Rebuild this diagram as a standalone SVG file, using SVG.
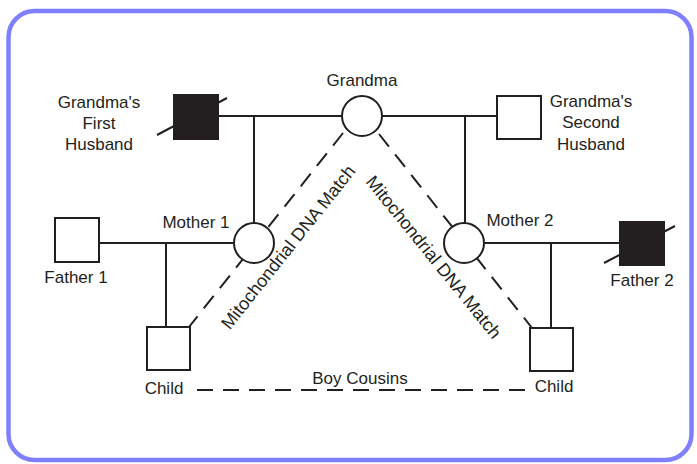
<svg xmlns="http://www.w3.org/2000/svg" width="697" height="464" viewBox="0 0 697 464">
<style>
  .ln{stroke:#231f20;stroke-width:2;fill:none}
  .dash{stroke:#231f20;stroke-width:2;fill:none;stroke-dasharray:16 10}
  .m{fill:#fff;stroke:#231f20;stroke-width:2}
  .d{fill:#231f20;stroke:#231f20;stroke-width:2}
  .f{fill:#fff;stroke:#231f20;stroke-width:2}
  text{font-family:"Liberation Sans",Arial,Helvetica,sans-serif;font-size:17px;fill:#231f20}
  .c{text-anchor:middle}
</style>
<rect x="8.5" y="11" width="683" height="449" rx="26" ry="26" fill="#fff" stroke="#8080ff" stroke-width="4.5"/>
<g id="connectors">
  <line class="ln" x1="218" y1="116" x2="342" y2="116"/>
  <line class="ln" x1="382" y1="116" x2="497" y2="116"/>
  <line class="ln" x1="254" y1="116" x2="254" y2="223"/>
  <line class="ln" x1="465" y1="116" x2="465" y2="223"/>
  <line class="ln" x1="99" y1="243" x2="234" y2="243"/>
  <line class="ln" x1="484" y1="243" x2="620" y2="243"/>
  <line class="ln" x1="166" y1="243" x2="166" y2="327"/>
  <line class="ln" x1="551" y1="243" x2="551" y2="328"/>
  <line class="dash" x1="343" y1="133" x2="189" y2="327"/>
  <line class="dash" x1="379" y1="134" x2="532" y2="328"/>
  <line class="dash" x1="197" y1="390" x2="525" y2="390"/>
</g>
<g id="grandma"><circle class="f" cx="362" cy="116" r="20"/><text class="c" x="362" y="86">Grandma</text></g>
<g id="first-husband">
  <rect class="d" x="174" y="95" width="44" height="44"/>
  <line class="ln" x1="157" y1="135" x2="227" y2="98"/>
  <text class="c"><tspan x="99" y="108">Grandma's</tspan><tspan x="99" y="129">First</tspan><tspan x="99" y="150">Husband</tspan></text>
</g>
<g id="second-husband">
  <rect class="m" x="497" y="96" width="44" height="43"/>
  <text class="c"><tspan x="591" y="107">Grandma's</tspan><tspan x="591" y="128">Second</tspan><tspan x="591" y="150">Husband</tspan></text>
</g>
<g id="mother1"><circle class="f" cx="254" cy="243" r="20"/><text class="c" x="196" y="228">Mother 1</text></g>
<g id="mother2"><circle class="f" cx="464" cy="243" r="20"/><text class="c" x="520" y="226">Mother 2</text></g>
<g id="father1"><rect class="m" x="55" y="218" width="44" height="44"/><text class="c" x="76" y="283">Father 1</text></g>
<g id="father2">
  <rect class="d" x="620" y="222" width="44" height="43"/>
  <line class="ln" x1="604" y1="263" x2="675" y2="226"/>
  <text class="c" x="642" y="286">Father 2</text>
</g>
<g id="child1"><rect class="m" x="147" y="327" width="43" height="43"/><text class="c" x="164" y="394">Child</text></g>
<g id="child2"><rect class="m" x="530" y="328" width="43" height="43"/><text class="c" x="554" y="392">Child</text></g>
<g id="labels">
  <text class="c" x="360" y="384">Boy Cousins</text>
  <text class="c" style="font-size:18px" transform="translate(293,251) rotate(-51.5)">Mitochondrial DNA Match</text>
  <text class="c" style="font-size:18px" transform="translate(429,261) rotate(51)">Mitochondrial DNA Match</text>
</g>
</svg>
